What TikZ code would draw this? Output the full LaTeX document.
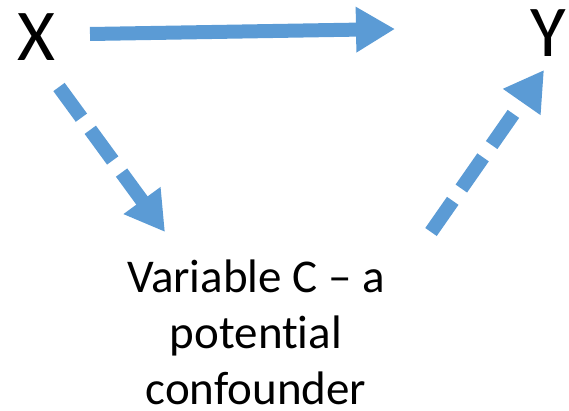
\documentclass[tikz,border=0pt]{standalone}
\usepackage{fontspec}
\setmainfont{Carlito}[Ligatures={NoCommon,NoContextual}]
\usetikzlibrary{arrows.meta, calc}
\definecolor{linkblue}{RGB}{91,155,213}
\tikzset{
    varnode/.style={
        font=\fontsize{73}{80}\selectfont, inner sep=0pt, anchor=base
    },
    causeptr/.style={
        -{Triangle[length=39pt, width=43pt]}, line width=14pt, linkblue
    },
    dashptr/.style={
        causeptr, dash pattern=on 38pt off 15pt
    }
}

\begin{document}
\begin{tikzpicture}[x=1pt, y=1pt]
    \useasboundingbox (0,0) rectangle (569,-411);

    % ======================================
    % VARIABLES
    % ======================================
    \node[varnode] (X) at (36,-61) {X};
    \node[varnode] (Y) at (548,-57) {Y};
    \node[align=center, inner sep=0pt,
          font=\fontsize{47}{56}\selectfont] (C) at (256,-332)
        {Variable C – a\\ potential\\ confounder};

    % ======================================
    % ARROWS
    % ======================================
    \draw[causeptr] ([shift={(54pt,27pt)}]X.base) -- ([shift={(-153pt,28pt)}]Y.base);
    \draw[dashptr] ([shift={(23pt,-26pt)}]X.base) -- ($(C.center)+(-91pt,100pt)$);
    \draw[dashptr] ($(C.center)+(175pt,100pt)$) -- ([shift={(-4pt,-13pt)}]Y.base);
\end{tikzpicture}
\end{document}
